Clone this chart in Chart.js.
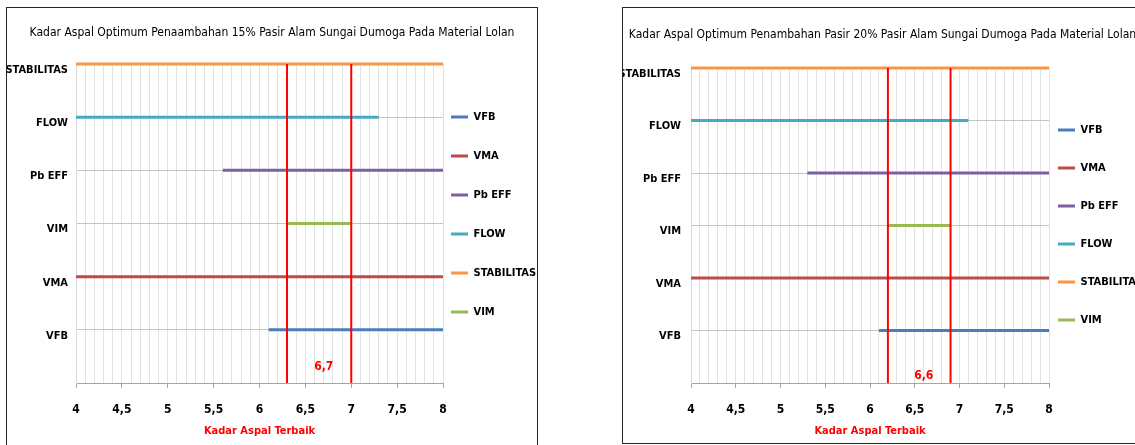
<!DOCTYPE html>
<html>
<head>
<meta charset="utf-8">
<script src="https://cdn.jsdelivr.net/npm/chart.js@4.4.1/dist/chart.umd.min.js"></script>
<style>
  html, body { margin: 0; padding: 0; background: #fff; overflow: hidden; width: 1135px; height: 445px; }
  .panel { position: absolute; border: 1px solid #262626; box-sizing: border-box; background: #fff; }
  #p15 { left: 6px; top: 7px; width: 532px; height: 470px; }
  #p20 { left: 622px; top: 7px; width: 521px; height: 437px; }
  canvas { display: block; }
</style>
</head>
<body>
<div class="panel" id="p15"><canvas id="c15" width="530" height="450"></canvas></div>
<div class="panel" id="p20"><canvas id="c20" width="519" height="435"></canvas></div>
<script>
// Rows of the chart (bottom to top) and the series shown on them
const seriesNames  = ['VFB', 'VMA', 'Pb EFF', 'FLOW', 'STABILITAS', 'VIM'];
const seriesRows   = [1, 2, 4, 5, 6, 3];
const seriesColors = ['#4a7ebb', '#be4b48', '#7d60a0', '#46aac5', '#f79646', '#98b954'];
const rowLabels    = ['', 'VFB', 'VMA', 'VIM', 'Pb EFF', 'FLOW', 'STABILITAS'];
const xTickLabels  = ['4', '4,5', '5', '5,5', '6', '6,5', '7', '7,5', '8'];
const X_MIN = 4, X_MAX = 8, Y_MAX = 6;

// 15% pasir alam: range of asphalt content meeting each requirement
const from15   = [6.1, 4.0, 5.6, 4.0, 4.0, 6.3];
const to15     = [8.0, 8.0, 8.0, 7.3, 8.0, 7.0];
const limits15 = [6.3, 7.0];
const optimum15 = 6.7;

// 20% pasir alam
const from20   = [6.1, 4.0, 5.3, 4.0, 4.0, 6.2];
const to20     = [8.0, 8.0, 8.0, 7.1, 8.0, 6.9];
const limits20 = [6.2, 6.9];
const optimum20 = 6.6;

const title15 = 'Kadar Aspal Optimum Penaambahan 15% Pasir Alam Sungai Dumoga Pada Material Lolan';
const title20 = 'Kadar Aspal Optimum Penambahan Pasir 20% Pasir Alam Sungai Dumoga Pada Material Lolan';
const axisTitle = 'Kadar Aspal Terbaik';

const FONT = "'Liberation Sans Narrow', 'DejaVu Sans Condensed', 'Roboto', sans-serif";
Chart.defaults.font.family = FONT;
Chart.defaults.color = '#000';

function isHalfStep(v) {
  const k = (v - X_MIN) * 2;
  return Math.abs(k - Math.round(k)) < 1e-6;
}

// Places the legend column next to the plot at a fixed offset
const legendPlacer = {
  id: 'legendPlacer',
  afterLayout(chart, args, opts) {
    const lg = chart.legend;
    const pad = lg.options.labels.padding;
    const fs = lg.options.labels.font.size;
    lg.left = chart.chartArea.right + opts.gap - pad;
    lg.top = opts.firstY - fs / 2 - pad;
  }
};

// Red value written between the two limit lines
const optimumLabel = {
  id: 'optimumLabel',
  afterDatasetsDraw(chart, args, opts) {
    const {ctx, scales: {x, y}} = chart;
    ctx.save();
    ctx.font = 'bold 12px ' + FONT;
    ctx.fillStyle = '#ff0000';
    ctx.textAlign = 'center';
    ctx.textBaseline = 'middle';
    ctx.fillText(String(opts.value).replace('.', ','), x.getPixelForValue(opts.value), y.getPixelForValue(opts.rowPos));
    ctx.restore();
  }
};

function buildChart(id, p) {
  const datasets = seriesNames.map((name, i) => ({
    label: name,
    data: [{x: p.from[i], y: seriesRows[i]}, {x: p.to[i], y: seriesRows[i]}],
    borderColor: seriesColors[i],
    backgroundColor: seriesColors[i],
    borderWidth: 3
  }));
  p.limits.forEach(v => datasets.push({
    label: 'batas',
    data: [{x: v, y: 0}, {x: v, y: Y_MAX}],
    borderColor: '#ff0000',
    backgroundColor: '#ff0000',
    borderWidth: 2,
    order: -1
  }));
  datasets.forEach(d => Object.assign(d, {
    showLine: true, pointRadius: 0, pointHoverRadius: 0, clip: false,
    borderCapStyle: 'butt', fill: false
  }));

  return new Chart(document.getElementById(id), {
    type: 'scatter',
    data: { datasets },
    plugins: [legendPlacer, optimumLabel],
    options: {
      responsive: false,
      animation: false,
      layout: { padding: 0 },
      scales: {
        x: {
          type: 'linear', min: X_MIN, max: X_MAX,
          afterFit(s) { s.height = p.xHeight; },
          ticks: {
            stepSize: 0.1, autoSkip: false, maxRotation: 0, padding: 15,
            font: { size: 12, weight: 'bold' }, color: '#000',
            callback(v) { return isHalfStep(v) ? xTickLabels[Math.round((v - X_MIN) * 2)] : ''; }
          },
          grid: {
            color: '#e2e2e2', lineWidth: 1, tickLength: 5,
            tickColor: c => (c.tick && isHalfStep(c.tick.value)) ? '#a6a6a6' : 'rgba(0,0,0,0)'
          },
          border: { color: '#a6a6a6', width: 1 },
          title: {
            display: true, text: axisTitle, color: '#ff0000',
            font: { size: 11, weight: 'bold' },
            padding: { top: 0, bottom: p.xTitleBottom }
          }
        },
        y: {
          type: 'linear', min: 0, max: Y_MAX,
          afterFit(s) { s.width = p.yWidth; },
          ticks: {
            stepSize: 1, padding: p.yPad, labelOffset: 6,
            font: { size: 11, weight: 'bold' }, color: '#000',
            callback(v) { return rowLabels[v] || ''; }
          },
          grid: { color: '#c4c4c4', lineWidth: 1, drawTicks: false },
          border: { color: '#d9d9d9', width: 1 }
        }
      },
      plugins: {
        title: {
          display: true, text: p.title,
          font: { size: 12, weight: 'normal' }, color: '#000',
          padding: p.titlePad
        },
        legend: {
          position: 'right', align: 'start', maxWidth: p.legendWidth,
          labels: {
            usePointStyle: true, pointStyle: 'line', pointStyleWidth: 17,
            padding: p.legendPad, color: '#000',
            font: { size: 11, weight: 'bold' },
            filter: item => item.datasetIndex < seriesNames.length
          }
        },
        tooltip: { enabled: false },
        legendPlacer: { gap: p.legendGap, firstY: p.legendFirstY },
        optimumLabel: { value: p.optimum, rowPos: p.optimumRow }
      }
    }
  });
}

buildChart('c15', {
  from: from15, to: to15, limits: limits15, optimum: optimum15, title: title15,
  xHeight: 75, xTitleBottom: 20.5, yWidth: 69, yPad: 8,
  titlePad: { top: 18, bottom: 23.6 }, legendWidth: 94, legendPad: 28,
  legendGap: 8, legendFirstY: 109, optimumRow: 0.3
});

buildChart('c20', {
  from: from20, to: to20, limits: limits20, optimum: optimum20, title: title20,
  xHeight: 60, xTitleBottom: 5.5, yWidth: 68, yPad: 10,
  titlePad: { top: 20, bottom: 25.6 }, legendWidth: 93, legendPad: 27,
  legendGap: 9, legendFirstY: 122, optimumRow: 0.14
});
</script>
</body>
</html>
